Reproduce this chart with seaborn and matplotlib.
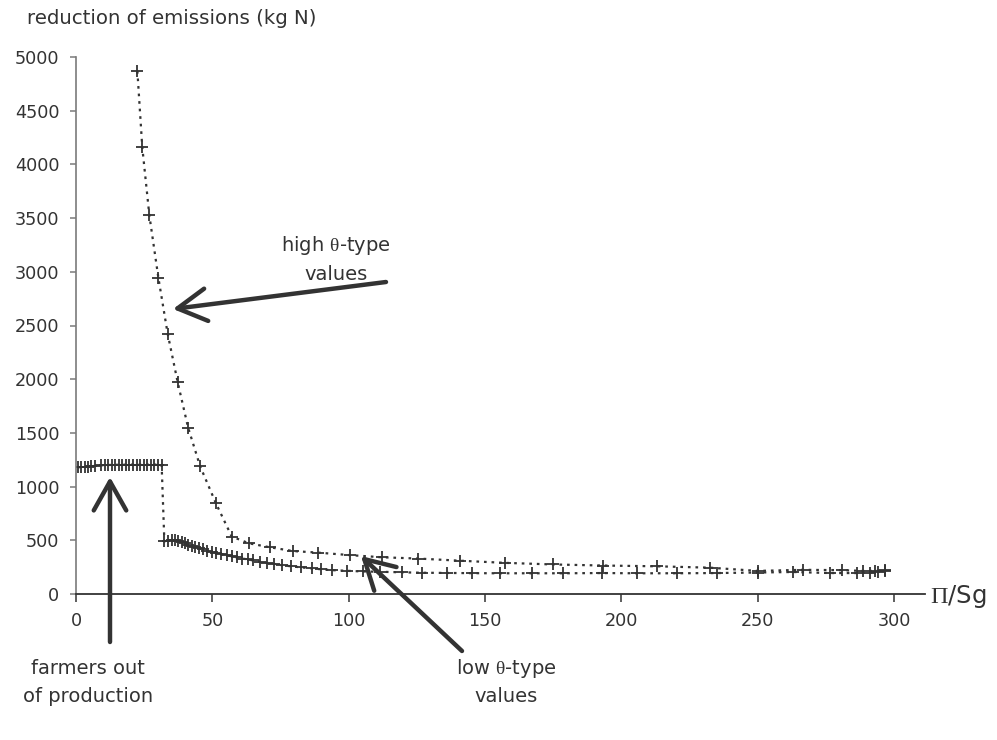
import matplotlib
matplotlib.use("Agg")
import matplotlib.pyplot as plt
import seaborn as sns
import pandas as pd

# ---- data ----
low_x = [0.8, 2.0, 3.2, 4.4, 5.6, 6.8,
         9.2, 10.5, 11.8, 13.1, 14.4, 15.7, 17.0, 18.3, 19.6, 20.9, 22.2, 23.5,
         24.8, 26.1, 27.4, 28.7, 30.0, 31.4,
         32.4, 33.9, 35.1, 36.3, 37.5, 38.8, 40.0, 41.2, 42.4, 43.6, 45.0, 46.5,
         48.0, 49.7, 51.5, 53.3, 55.2, 57.1, 59.0, 61.0, 63.0, 65.0, 67.5, 70.0,
         72.7, 75.5, 78.8, 82.5, 86.4, 90.0, 94.0, 99.3, 105.1, 111.5, 119.4,
         126.8, 135.9, 145.1, 155.5, 167.1, 178.7, 192.8, 205.6, 220.3, 234.9,
         250.0, 263.0, 276.5, 286.3, 291.2, 294.2, 296.7]
low_y = [1180, 1182, 1185, 1187, 1190, 1192,
         1198, 1200, 1201, 1202, 1203, 1203, 1204, 1204, 1204, 1205, 1205, 1205,
         1205, 1205, 1205, 1205, 1204, 1203,
         490, 497, 503, 503, 498, 485, 472, 460, 450, 440, 428, 415,
         404, 394, 384, 372, 362, 350, 340, 330, 322, 312, 300, 290,
         280, 268, 258, 248, 238, 230, 222, 216, 210, 207, 202,
         198, 196, 194, 193, 193, 193, 195, 193, 193, 195,
         200, 205, 195, 195, 200, 205, 210]

high_x = [22.5, 24.3, 26.9, 30.2, 33.6, 37.3, 41.1, 45.5, 51.3, 57.1, 63.4,
          71.1, 79.5, 88.9, 100.4, 112.1, 125.5, 140.8, 157.3, 175.0, 193.4,
          212.9, 232.5, 250.0, 266.5, 280.8, 288.5, 293.0, 296.5]
high_y = [4870, 4160, 3525, 2945, 2425, 1970, 1550, 1190, 845, 535, 472,
          435, 400, 385, 362, 342, 330, 310, 290, 275, 265,
          258, 245, 215, 225, 222, 215, 215, 220]

x_ticks = [0, 50, 100, 150, 200, 250, 300]
y_ticks = [0, 500, 1000, 1500, 2000, 2500, 3000, 3500, 4000, 4500, 5000]

W, H = 997, 740
DARK = "#333333"

sns.set_style("white")
plt.rcParams["font.family"] = ["DejaVu Sans"]
plt.rcParams["mathtext.fontset"] = "custom"
plt.rcParams["mathtext.rm"] = "Liberation Serif"
plt.rcParams["mathtext.it"] = "Liberation Serif"

fig = plt.figure(figsize=(W / 100, H / 100), dpi=100)
ax = fig.add_axes([76 / W, 1 - 594 / H, (925 - 76) / W, (594 - 57) / H])

df_low = pd.DataFrame({"x": low_x, "y": low_y})
df_high = pd.DataFrame({"x": high_x, "y": high_y})

line_kw = dict(color=DARK, marker="+", markersize=9, markeredgewidth=1.3,
               markeredgecolor=DARK, linewidth=1.6, linestyle=(0, (1.2, 2.2)),
               estimator=None, sort=False, legend=False)
sns.lineplot(data=df_low, x="x", y="y", ax=ax, **line_kw)
sns.lineplot(data=df_high, x="x", y="y", ax=ax, **line_kw)

ax.set_xlim(0, 311.3)
ax.set_ylim(0, 5000)
ax.set_xticks(x_ticks)
ax.set_yticks(y_ticks)
ax.set_xlabel("")
ax.set_ylabel("")
for s in ["top", "right"]:
    ax.spines[s].set_visible(False)
ax.spines["left"].set_color("#7a7a7a")
ax.spines["left"].set_linewidth(1.2)
ax.spines["bottom"].set_color(DARK)
ax.spines["bottom"].set_linewidth(1.3)
ax.tick_params(axis="y", direction="out", length=4, width=1.1, color="#7a7a7a",
               pad=8, labelsize=12.7, labelcolor=DARK, left=True)
ax.tick_params(axis="x", direction="out", length=6, width=1.1, color=DARK,
               pad=7, labelsize=12.7, labelcolor=DARK, bottom=True)
ax.grid(False)


def fp(x, y):
    return (x, H - y)


fig.text(27 / W, 1 - 19 / H, "reduction of emissions (kg N)", fontsize=14.2,
         color=DARK, ha="left", va="center")
fig.text(930 / W, 1 - 596 / H, r"$\mathrm{Π}$/Sg", fontsize=17.5, color=DARK,
         ha="left", va="center")

txt_kw = dict(fontsize=14, color=DARK, ha="center", va="center")
fig.text(336 / W, 1 - 246 / H, r"high $\mathrm{θ}$-type", **txt_kw)
fig.text(336 / W, 1 - 274 / H, "values", **txt_kw)
fig.text(88 / W, 1 - 669 / H, "farmers out", **txt_kw)
fig.text(88 / W, 1 - 697 / H, "of production", **txt_kw)
fig.text(506 / W, 1 - 669 / H, r"low $\mathrm{θ}$-type", **txt_kw)
fig.text(506 / W, 1 - 697 / H, "values", **txt_kw)

arrow_kw = dict(arrowstyle="->,head_length=0.8,head_width=0.45", lw=3.2,
                color=DARK, shrinkA=0, shrinkB=0, mutation_scale=26)
ax.annotate("", xy=fp(173, 309), xytext=fp(386, 282),
            xycoords="figure pixels", textcoords="figure pixels",
            arrowprops=arrow_kw, annotation_clip=False)
ax.annotate("", xy=fp(110, 477), xytext=fp(110, 642),
            xycoords="figure pixels", textcoords="figure pixels",
            arrowprops=arrow_kw, annotation_clip=False)
ax.annotate("", xy=fp(361, 556), xytext=fp(462, 651),
            xycoords="figure pixels", textcoords="figure pixels",
            arrowprops=arrow_kw, annotation_clip=False)

fig.savefig("out.png", dpi=100)
